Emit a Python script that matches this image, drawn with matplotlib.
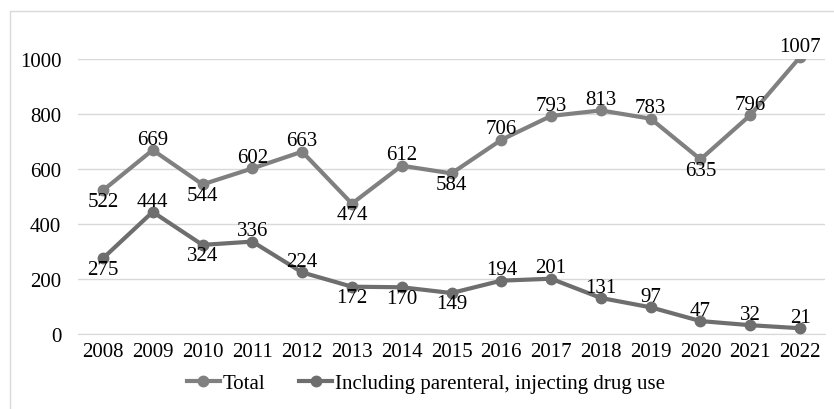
import matplotlib

matplotlib.use('Agg')
import matplotlib.pyplot as plt
from matplotlib.patches import Rectangle

plt.rcParams['font.family'] = ['Liberation Serif', 'DejaVu Serif']

# данные
years = [2008, 2009, 2010, 2011, 2012, 2013, 2014, 2015, 2016, 2017, 2018, 2019, 2020, 2021, 2022]
total = [522, 669, 544, 602, 663, 474, 612, 584, 706, 793, 813, 783, 635, 796, 1007]
injecting = [275, 444, 324, 336, 224, 172, 170, 149, 194, 201, 131, 97, 47, 32, 21]

# положение подписей: 1 - сверху, -1 - снизу
total_pos = [-1, 1, -1, 1, 1, -1, 1, -1, 1, 1, 1, 1, -1, 1, 1]
inj_pos = [-1, 1, -1, 1, 1, -1, -1, -1, 1, 1, 1, 1, 1, 1, 1]

c_total = '#808080'
c_inj = '#6e6e6e'

fig = plt.figure(figsize=(8.34, 4.10), dpi=100)
ax = fig.add_axes([78 / 834, 1 - 335 / 410, (825 - 78) / 834, (335 - 60) / 410])

x = list(range(len(years)))
ax.plot(x, total, color=c_total, lw=3, marker='o', ms=7.5, label='Total', zorder=3)
ax.plot(x, injecting, color=c_inj, lw=3, marker='o', ms=7.5,
        label='Including parenteral, injecting drug use', zorder=3)

for xs, vals, pos in [(x, total, total_pos), (x, injecting, inj_pos)]:
    for xi, v, p in zip(xs, vals, pos):
        ax.annotate(str(v), (xi, v), xytext=(0, 1 * p), textcoords='offset points',
                    ha='center', va='bottom' if p > 0 else 'top', fontsize=15,
                    color='black', annotation_clip=False)

ax.set_xlim(-0.5, len(years) - 0.5)
ax.set_ylim(0, 1000)
ax.set_yticks([0, 200, 400, 600, 800, 1000])
ax.set_xticks(x)
ax.set_xticklabels([str(y) for y in years])
ax.tick_params(axis='both', length=0, labelsize=15, colors='black')
ax.tick_params(axis='y', pad=12)
ax.tick_params(axis='x', pad=6)
ax.grid(axis='y', color='#d9d9d9', lw=1)
ax.set_axisbelow(True)
for s in ax.spines.values():
    s.set_visible(False)
ax.spines['bottom'].set_visible(True)
ax.spines['bottom'].set_color('#d9d9d9')

fig.legend(loc='center', bbox_to_anchor=(426 / 834, 1 - 384 / 410), ncol=2, frameon=False,
           fontsize=15, handlelength=1.6, handletextpad=0.15, columnspacing=1.6,
           borderpad=0, borderaxespad=0)

# рамка диаграммы
fig.patches.append(Rectangle((10 / 834, -0.1), 1.2, 1 - 12 / 410 + 0.1, transform=fig.transFigure,
                             fill=False, edgecolor='#d9d9d9', lw=1))

plt.savefig('out.png', dpi=100)
plt.close()
